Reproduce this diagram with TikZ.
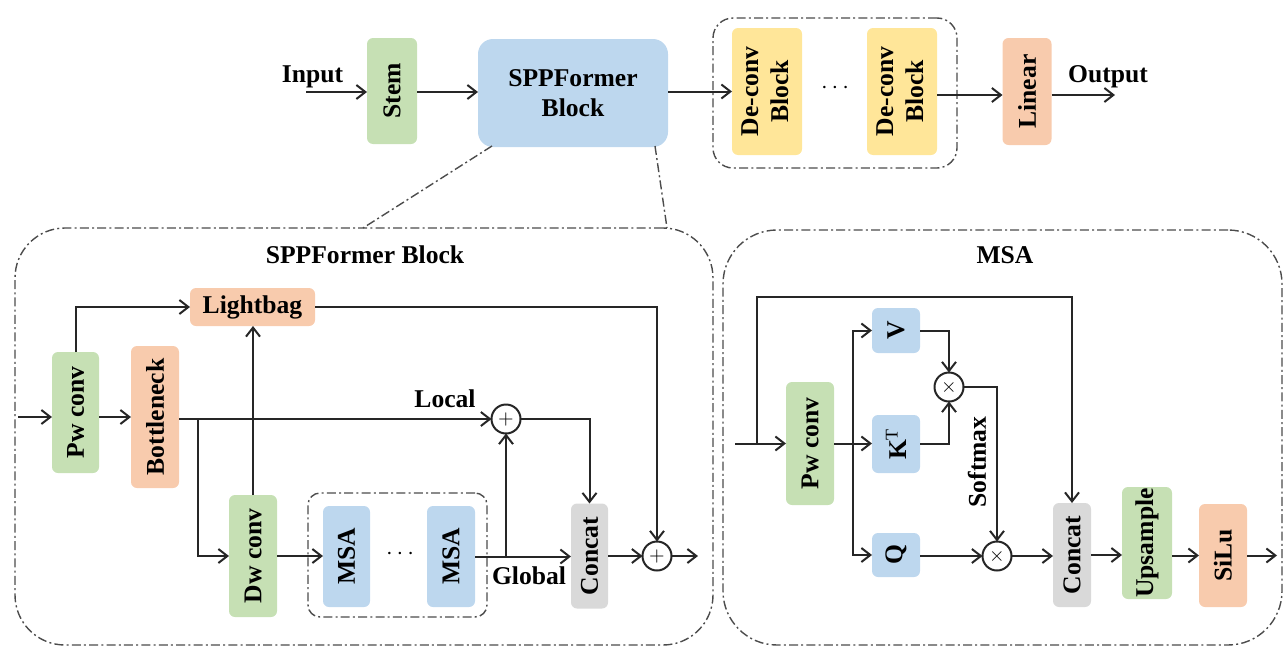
\documentclass[tikz,border=0pt]{standalone}
\usepackage{fontspec}
\setmainfont{Liberation Serif}
\usepackage{graphicx}
\usetikzlibrary{arrows.meta,calc}

\definecolor{boxgreen}{HTML}{C6E0B4}
\definecolor{boxsalmon}{HTML}{F8CBAD}
\definecolor{boxblue}{HTML}{BDD7EE}
\definecolor{boxyellow}{HTML}{FFE699}
\definecolor{boxgray}{HTML}{D9D9D9}
\definecolor{framegray}{gray}{0.3}

\tikzset{
  every node/.style={font=\bfseries\fontsize{12.8}{15}\selectfont, inner sep=0pt, outer sep=0pt},
  sz/.style 2 args={minimum width=#1*0.5pt, minimum height=#2*0.5pt},
  blk/.style={rectangle, rounded corners=3pt},
  gbox/.style={blk, fill=boxgreen},
  sbox/.style={blk, fill=boxsalmon},
  bbox/.style={blk, fill=boxblue},
  ybox/.style={blk, fill=boxyellow},
  cbox/.style={blk, fill=boxgray},
  frame/.style={rectangle, draw=framegray, line width=0.7pt,
    dash pattern=on 4.5pt off 1.6pt on 1pt off 1.6pt},
  guide/.style={draw=framegray, line width=0.7pt,
    dash pattern=on 4.5pt off 1.6pt on 1pt off 1.6pt},
  arr/.style={draw=black!85, line width=1pt, -{Straight Barb[length=4.5pt,width=7pt,line width=1pt]}},
  op/.style={circle, draw=black!85, line width=1pt, minimum size=14.5pt,
    font=\fontsize{10}{10}\selectfont},
  lab/.style={anchor=base},
}

\begin{document}
\begin{tikzpicture}[x=0.5pt, y=-0.5pt]
\useasboundingbox (0,0) rectangle (1284,653);

% ---------------- top pipeline ----------------
\node[lab] (inlab) at (312.5,82) {Input};
\coordinate (inS) at (306,92);
\node[gbox, sz={50}{106}] (stem) at (392,91) {\rotatebox{90}{Stem}};
\node[bbox, rounded corners=7.5pt, sz={190}{108}, align=center] (sppf) at (573,93) {SPPFormer\\Block};
\node[frame, rounded corners=10pt, sz={244}{150}] (dcgrp) at (835,93) {};
\node[ybox, sz={70}{127}] (dc1) at (767,91.5)
  {\rotatebox{90}{\begin{tabular}{@{}c@{}}De-conv\\Block\end{tabular}}};
\node (dots1) at (835,88) {$\cdots$};
\node[ybox, sz={70}{127}] (dc2) at (902,91.5)
  {\rotatebox{90}{\begin{tabular}{@{}c@{}}De-conv\\Block\end{tabular}}};
\node[sbox, sz={49}{107}] (lin) at (1027,91.5) {\rotatebox{90}{Linear}};
\node[lab] (outlab) at (1108,82) {Output};
\coordinate (outE) at (1115,95);

\draw[arr] (inS) -- (inS -| stem.west);
\draw[arr] (stem.east |- inS) -- (inS -| sppf.west);
\draw[arr] (sppf.east |- dc1) -- (dc1.west);
\draw[arr] (dc2.east |- outE) -- (outE -| lin.west);
\draw[arr] (lin.east |- outE) -- (outE);

% zoom guides from the block to its detail panel
\coordinate (zl1) at (492,146);
\coordinate (zl2) at (363,228);
\coordinate (zr1) at (655,146);
\coordinate (zr2) at (667,228);
\draw[guide] (zl1) -- (zl2);
\draw[guide] (zr1) -- (zr2);

% ---------------- SPPFormer Block panel ----------------
\node[frame, rounded corners=25pt, sz={698}{417}] (lpanel) at (364,436.5) {};
\node[lab] (ltitle) at (365,263) {SPPFormer Block};

\coordinate (lin0) at (18,417);
\node[gbox, sz={47}{121}] (pw1) at (75.5,412.5) {\rotatebox{90}{Pw conv}};
\node[sbox, sz={48}{142}] (bn) at (155,417) {\rotatebox{90}{Bottleneck}};
\node[sbox, sz={125}{38}] (lb) at (252.5,307) {Lightbag};
\node[gbox, sz={48}{122}] (dw) at (253,556) {\rotatebox{90}{Dw conv}};
\node[frame, rounded corners=6pt, sz={179}{124}] (msagrp) at (397.5,555) {};
\node[bbox, sz={47}{101}] (m1) at (346.5,556.5) {\rotatebox{90}{MSA}};
\node (dots2) at (400,554) {$\cdots$};
\node[bbox, sz={48}{101}] (m2) at (451,556.5) {\rotatebox{90}{MSA}};
\node[op] (add1) at (506,419) {$+$};
\node[cbox, sz={37}{105}] (cat1) at (589.5,556) {\rotatebox{90}{Concat}};
\node[op] (add2) at (657,556) {$+$};
\coordinate (lout) at (698,556);
\coordinate (br1) at (198,419);
\coordinate (br2) at (506,556.5);
\node[lab] (local) at (445,407) {Local};
\node[lab] (global) at (529,584) {Global};

\draw[arr] (lin0) -- (lin0 -| pw1.west);
\draw[arr] (pw1.east |- lin0) -- (lin0 -| bn.west);
\draw[arr] (pw1.north) |- (lb.west);
\draw[arr] (lb.east) -| (add2.north);
\draw[arr] (bn.east |- add1) -- (add1.west);
\draw[arr] (br1) |- (dw.west);
\draw[arr] (dw.north) -- (dw.north |- lb.south);
\draw[arr] (dw.east) -- (dw.east -| m1.west);
\draw[arr] (m2.east) -- (m2.east -| cat1.west);
\draw[arr] (br2) -- (add1.south);
\draw[arr] (add1.east) -| (cat1.north);
\draw[arr] (cat1.east) -- (add2.west);
\draw[arr] (add2.east) -- (lout);

% ---------------- MSA panel ----------------
\node[frame, rounded corners=27pt, sz={559}{415}] (rpanel) at (1002.5,437.5) {};
\node[lab] (rtitle) at (1005,263) {MSA};

\coordinate (rin) at (735,443.5);
\coordinate (rbr) at (757,443.5);
\coordinate (rtop) at (757,297);
\node[gbox, sz={48}{123}] (rpw) at (810,443.5) {\rotatebox{90}{Pw conv}};
\coordinate (qbr) at (853,443.5);
\node[bbox, sz={48}{45}] (vv) at (896,330.5) {\rotatebox{90}{V}};
\node[bbox, sz={48}{58}] (kk) at (896,444) {\rotatebox{90}{K\textsuperscript{\mdseries T}}};
\node[bbox, sz={48}{44}] (qq) at (896,555) {\rotatebox{90}{Q}};
\node[op] (mul1) at (949,387) {$\times$};
\node[op] (mul2) at (997,556) {$\times$};
\node (softmax) at (977,462) {\rotatebox{90}{Softmax}};
\node[cbox, sz={38}{104}] (cat2) at (1072,555) {\rotatebox{90}{Concat}};
\node[gbox, sz={50}{112}] (ups) at (1147,543) {\rotatebox{90}{Upsample}};
\node[sbox, sz={48}{103}] (silu) at (1223,555.5) {\rotatebox{90}{SiLu}};
\coordinate (rout) at (1277,555.5);

\draw[arr] (rin) -- (rpw.west);
\draw[arr] (rbr) -- (rtop) -| (cat2.north);
\draw[arr] (rpw.east) -- (rpw.east -| kk.west);
\draw[arr] (qbr) |- (vv.west);
\draw[arr] (qbr) |- (qq.west);
\draw[arr] (vv.east) -| (mul1.north);
\draw[arr] (kk.east) -| (mul1.south);
\draw[arr] (mul1.east) -| (mul2.north);
\draw[arr] (qq.east |- mul2) -- (mul2.west);
\draw[arr] (mul2.east) -- (cat2.west |- mul2);
\draw[arr] (cat2.east) -- (cat2.east -| ups.west);
\draw[arr] (ups.east |- silu) -- (silu.west);
\draw[arr] (silu.east) -- (rout);
\end{tikzpicture}
\end{document}
